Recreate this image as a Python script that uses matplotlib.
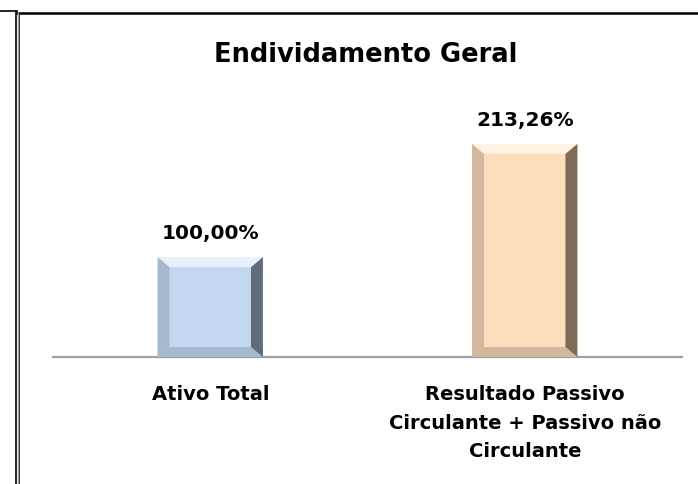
import matplotlib
matplotlib.use('Agg')
import matplotlib.pyplot as plt
from matplotlib.patches import Polygon
from matplotlib.lines import Line2D

categories = ['Ativo Total', 'Resultado Passivo\nCirculante + Passivo não\nCirculante']
values = [100.00, 213.26]
value_labels = ['100,00%', '213,26%']
face_colors = ['#C3D7EF', '#FDDDBC']
light_colors = ['#E8F0FA', '#FFF3E4']
side_colors = ['#A7B9CF', '#D4B89E']
dark_colors = ['#5F6D7D', '#7D6A59']

plt.rcParams['font.family'] = ['DejaVu Sans']

W, H = 698, 484
fig = plt.figure(figsize=(W / 100, H / 100), dpi=100)
ax = fig.add_axes([53 / W, (H - 357) / H, 629 / W, 267 / H])
ax.set_xlim(-0.5, 1.5)
ax.set_ylim(0, 267)

bw = 0.335
bars = ax.bar(range(len(values)), values, width=bw, color=face_colors, zorder=2)

# bevel effect on each bar
dx, dy = 0.038, 10
for i, b in enumerate(bars):
    x0, y0 = b.get_x(), b.get_y()
    x1, y1 = x0 + b.get_width(), y0 + b.get_height()
    top = [(x0, y1), (x1, y1), (x1 - dx, y1 - dy), (x0 + dx, y1 - dy)]
    left = [(x0, y0), (x0, y1), (x0 + dx, y1 - dy), (x0 + dx, y0 + dy)]
    right = [(x1, y0), (x1, y1), (x1 - dx, y1 - dy), (x1 - dx, y0 + dy)]
    bottom = [(x0, y0), (x1, y0), (x1 - dx, y0 + dy), (x0 + dx, y0 + dy)]
    ax.add_patch(Polygon(left, closed=True, color=side_colors[i], lw=0, zorder=3))
    ax.add_patch(Polygon(bottom, closed=True, color=side_colors[i], lw=0, zorder=3))
    ax.add_patch(Polygon(right, closed=True, color=dark_colors[i], lw=0, zorder=3))
    ax.add_patch(Polygon(top, closed=True, color=light_colors[i], lw=0, zorder=4))
    ax.text(b.get_x() + b.get_width() / 2, y1 + 14, value_labels[i],
            ha='center', va='bottom', fontsize=14.5, fontweight='bold', color='black')

for s in ['top', 'right', 'left']:
    ax.spines[s].set_visible(False)
ax.spines['bottom'].set_color('#A0A0A0')
ax.spines['bottom'].set_linewidth(1.6)
ax.set_yticks([])
ax.set_xticks(range(len(categories)))
ax.set_xticklabels(categories, fontsize=14, fontweight='bold', linespacing=1.65)
ax.tick_params(axis='x', length=0, pad=20)

fig.text(366 / W, 1 - 55 / H, 'Endividamento Geral', ha='center', va='center',
         fontsize=18.5, fontweight='bold')

# frame lines
fig.add_artist(Line2D([0, 17 / W], [1 - 11 / H, 1 - 11 / H], color='black', lw=1.2))
fig.add_artist(Line2D([17 / W, 1], [1 - 13 / H, 1 - 13 / H], color='black', lw=1.8))
fig.add_artist(Line2D([16 / W, 16 / W], [0, 1 - 11 / H], color='black', lw=1.2))
fig.add_artist(Line2D([19 / W, 19 / W], [0, 1 - 13 / H], color='black', lw=1.2))
fig.add_artist(Line2D([17.5 / W, 17.5 / W], [0, 1 - 12 / H], color='#9A9A9A', lw=1.0))

fig.savefig('out.png', dpi=100)
